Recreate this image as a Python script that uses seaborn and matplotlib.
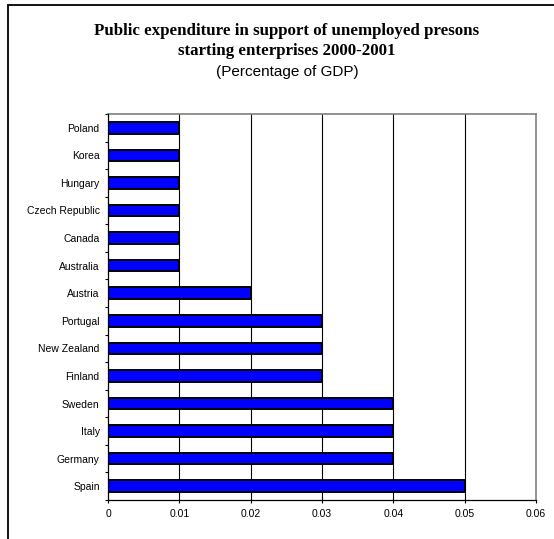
import matplotlib
matplotlib.use("Agg")
import matplotlib.pyplot as plt
import matplotlib.patches as mpatches
from matplotlib.ticker import FixedLocator
import seaborn as sns
import pandas as pd

countries = ["Poland", "Korea", "Hungary", "Czech Republic", "Canada", "Australia",
             "Austria", "Portugal", "New Zealand", "Finland", "Sweden", "Italy",
             "Germany", "Spain"]
values = [0.01, 0.01, 0.01, 0.01, 0.01, 0.01, 0.02, 0.03, 0.03, 0.03, 0.04, 0.04, 0.04, 0.05]
xticks = [0, 0.01, 0.02, 0.03, 0.04, 0.05, 0.06]
xticklabels = ["0", "0.01", "0.02", "0.03", "0.04", "0.05", "0.06"]
title_lines = ["Public expenditure in support of unemployed presons",
               "starting enterprises 2000-2001"]
subtitle = "(Percentage of GDP)"

sns.set_theme(style="white")
plt.rcParams["font.family"] = ["Liberation Sans", "DejaVu Sans"]
plt.rcParams["text.color"] = "black"
plt.rcParams["xtick.color"] = "black"
plt.rcParams["ytick.color"] = "black"

W, H = 554, 539
fig = plt.figure(figsize=(W / 100, H / 100), dpi=100)
ax = fig.add_axes([108 / W, 1 - 500 / H, (536 - 108) / W, (500 - 114) / H])

df = pd.DataFrame({"country": countries, "value": values})
sns.barplot(data=df, x="value", y="country", orient="h", order=countries,
            color="#0000FF", saturation=1, width=0.42,
            edgecolor="black", linewidth=1.4, ax=ax, zorder=3)

ax.set_xlim(0, 0.06)
ax.set_ylim(len(countries) - 0.5, -0.5)
ax.set_xlabel("")
ax.set_ylabel("")

ax.set_xticks(xticks)
ax.set_xticklabels(xticklabels, fontsize=7.5, color="black")
ax.tick_params(axis="x", which="major", direction="out", length=2.5, width=0.8,
               color="black", labelcolor="black", pad=4, bottom=True)
ax.set_yticks(range(len(countries)))
ax.set_yticklabels(countries, fontsize=7.5, color="black")
ax.tick_params(axis="y", which="major", length=0, pad=6, labelcolor="black")
ax.yaxis.set_minor_locator(FixedLocator([i - 0.5 for i in range(len(countries) + 1)]))
ax.tick_params(axis="y", which="minor", direction="out", length=2.5, width=0.8,
               color="black", left=True)

for xv in xticks[1:-1]:
    ax.axvline(xv, color="black", linewidth=0.8, zorder=1)

for side in ["left", "bottom"]:
    ax.spines[side].set_color("black")
    ax.spines[side].set_linewidth(0.9)
    ax.spines[side].set_zorder(4)
for side in ["top", "right"]:
    ax.spines[side].set_color("#808080")
    ax.spines[side].set_linewidth(1.2)

cx = 287 / W
fig.text(cx, 1 - 31 / H, title_lines[0], ha="center", va="center", color="black",
         family="Liberation Serif", fontweight="bold", fontsize=12.2)
fig.text(cx, 1 - 51 / H, title_lines[1], ha="center", va="center", color="black",
         family="Liberation Serif", fontweight="bold", fontsize=12.2)
fig.text(cx, 1 - 72 / H, subtitle, ha="center", va="center", color="black",
         family="Liberation Sans", fontsize=11)

border = mpatches.Rectangle((8 / W, -0.1), 1.2, 1 - 5 / H + 0.1,
                            transform=fig.transFigure, fill=False,
                            edgecolor="black", linewidth=1.3)
fig.patches.append(border)

fig.savefig("out.png", dpi=100)
